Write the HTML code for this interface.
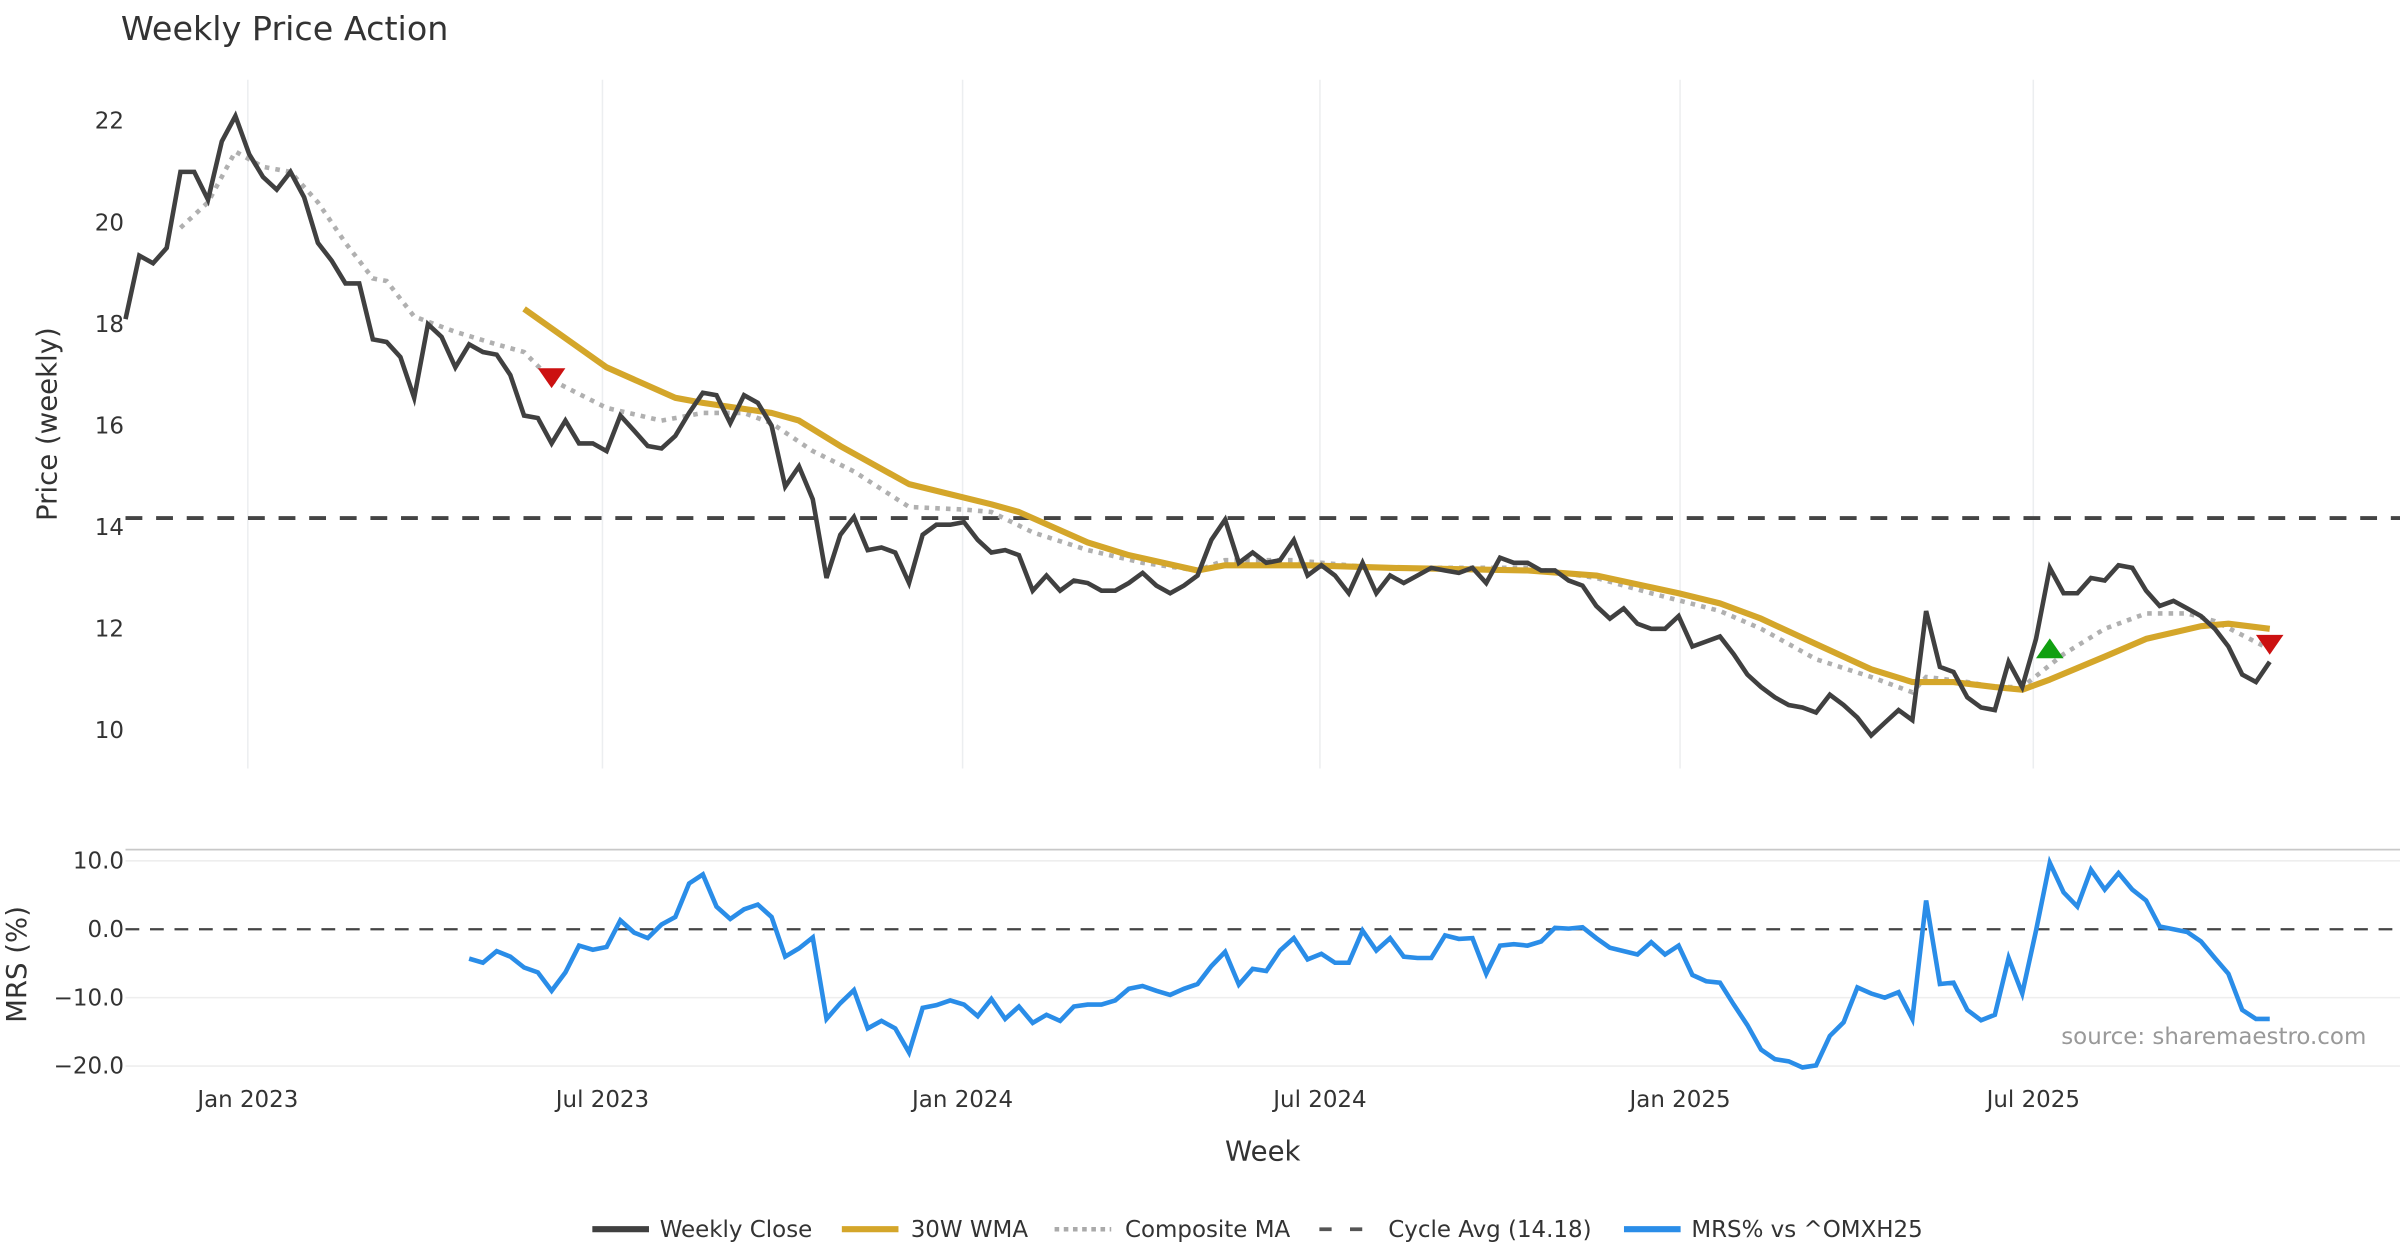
<!DOCTYPE html>
<html><head><meta charset="utf-8"><style>
html,body{margin:0;padding:0;background:#fff;}
svg{display:block;font-family:"DejaVu Sans","Liberation Sans",sans-serif;}
</style></head><body>
<svg id="chart" width="2400" height="1260" viewBox="0 0 1568 823" xmlns="http://www.w3.org/2000/svg">
<text x="79" y="26" font-size="21.8" fill="#333">Weekly Price Action</text>
<g id="grid"></g>
<g id="axes"></g>
<g id="series"></g>
<text transform="translate(37,277) rotate(-90)" text-anchor="middle" font-size="18" fill="#333">Price (weekly)</text>
<text transform="translate(17,630) rotate(-90)" text-anchor="middle" font-size="18" fill="#333">MRS (%)</text>
<text x="825" y="758" text-anchor="middle" font-size="18" fill="#333">Week</text>
<text x="1546" y="682" text-anchor="end" font-size="15" fill="#999">source: sharemaestro.com</text>
<g font-size="15" fill="#333">
<g><line x1="387" y1="803" x2="424" y2="803" stroke="#404040" stroke-width="4"/><text x="431" y="808">Weekly Close</text></g>
<g><line x1="550" y1="803" x2="587" y2="803" stroke="#d4a62a" stroke-width="4"/><text x="595" y="808">30W WMA</text></g>
<g><line x1="689" y1="803" x2="726" y2="803" stroke="#aaa" stroke-width="3" stroke-dasharray="3,3"/><text x="735" y="808">Composite MA</text></g>
<g><line x1="862" y1="803" x2="899" y2="803" stroke="#555" stroke-width="2.5" stroke-dasharray="8,12"/><text x="907" y="808">Cycle Avg (14.18)</text></g>
<g><line x1="1061" y1="803" x2="1098" y2="803" stroke="#2a8de8" stroke-width="4"/><text x="1105" y="808">MRS% vs ^OMXH25</text></g>
</g>
</svg>
<script>
const closeVals=[18.1,19.35,19.2,19.5,21.0,21.0,20.45,21.6,22.1,21.35,20.9,20.65,21.0,20.5,19.6,19.25,18.8,18.8,17.7,17.65,17.35,16.55,18.0,17.75,17.15,17.6,17.45,17.4,17.0,16.2,16.15,15.65,16.1,15.65,15.65,15.5,16.2,15.9,15.6,15.55,15.8,16.25,16.65,16.6,16.05,16.6,16.45,16.0,14.8,15.2,14.55,13.0,13.85,14.2,13.55,13.6,13.5,12.9,13.85,14.05,14.05,14.1,13.75,13.5,13.55,13.45,12.75,13.05,12.75,12.95,12.9,12.75,12.75,12.9,13.1,12.85,12.7,12.85,13.05,13.75,14.15,13.3,13.5,13.3,13.35,13.75,13.05,13.25,13.05,12.7,13.3,12.7,13.05,12.9,13.05,13.2,13.15,13.1,13.2,12.9,13.4,13.3,13.3,13.15,13.15,12.95,12.85,12.45,12.2,12.4,12.1,12.0,12.0,12.25,11.65,11.75,11.85,11.5,11.1,10.85,10.65,10.5,10.45,10.35,10.7,10.5,10.25,9.9,10.15,10.4,10.2,12.35,11.25,11.15,10.65,10.45,10.4,11.35,10.85,11.8,13.2,12.7,12.7,13.0,12.95,13.25,13.2,12.75,12.45,12.55,12.4,12.25,12.0,11.65,11.1,10.95,11.35];
const wmaWeeks=[29,35,40,42,47,49,52,57,63,65,70,73,78,80,86,92,102,107,113,116,119,123,127,130,133,136,138,140,144,147,151,153,156];
const wmaVals=[18.3,17.15,16.55,16.45,16.25,16.1,15.6,14.85,14.45,14.3,13.7,13.45,13.15,13.25,13.25,13.2,13.15,13.05,12.7,12.5,12.2,11.7,11.2,10.95,10.95,10.85,10.8,11.0,11.45,11.8,12.05,12.1,12.0];
const compWeeks=[4,6,8,10,12,14,16,18,19,21,24,27,29,31,35,39,42,45,47,50,53,57,61,63,66,70,74,78,80,85,91,97,102,107,111,116,119,123,127,130,131,134,136,138,141,144,147,150,152,156];
const compVals=[19.9,20.4,21.4,21.1,21.0,20.4,19.6,18.9,18.85,18.15,17.85,17.6,17.45,16.9,16.35,16.1,16.25,16.25,16.05,15.5,15.1,14.4,14.35,14.3,13.9,13.55,13.3,13.15,13.35,13.35,13.2,13.2,13.2,13.0,12.7,12.35,12.0,11.4,11.05,10.75,11.05,10.95,10.85,10.85,11.5,12.0,12.3,12.3,12.15,11.6];
const mrsStart=25;
const mrsVals=[-4.3,-4.9,-3.2,-4,-5.6,-6.3,-9,-6.3,-2.4,-3,-2.6,1.3,-0.5,-1.3,0.7,1.8,6.7,8,3.3,1.5,2.9,3.6,1.8,-4,-2.8,-1.2,-13.1,-10.8,-8.9,-14.5,-13.4,-14.5,-18,-11.5,-11.1,-10.4,-11,-12.7,-10.2,-13.1,-11.3,-13.7,-12.5,-13.4,-11.3,-11,-11,-10.4,-8.7,-8.3,-9,-9.6,-8.7,-8,-5.4,-3.3,-8.1,-5.8,-6.1,-3.1,-1.3,-4.4,-3.6,-4.9,-4.9,-0.2,-3.1,-1.3,-4,-4.2,-4.2,-0.9,-1.4,-1.3,-6.5,-2.4,-2.2,-2.4,-1.8,0.2,0.1,0.3,-1.3,-2.7,-3.2,-3.7,-1.9,-3.7,-2.4,-6.7,-7.6,-7.8,-11,-14,-17.6,-19,-19.3,-20.2,-19.9,-15.6,-13.6,-8.5,-9.4,-10,-9.2,-13.1,4.2,-8,-7.8,-11.8,-13.3,-12.5,-4.2,-9.4,-0.2,9.7,5.4,3.3,8.7,5.8,8.2,5.8,4.2,0.4,0,-0.4,-1.8,-4.2,-6.5,-11.8,-13.1,-13.1];
const cycleAvg=14.18;
const sellSignals=[[31,16.95],[156,11.7]];
const buySignals=[[140,11.6]];
const xTickWeeks=[8.9,34.7,60.9,86.9,113.1,138.8];
const xTickLabels=["Jan 2023","Jul 2023","Jan 2024","Jul 2024","Jan 2025","Jul 2025"];
const priceTicks=[10,12,14,16,18,20,22];
const mrsTicks=[10,0,-10,-20];
const mrsTickLabels=["10.0","0.0","\u221210.0","\u221220.0"];

const NS="http://www.w3.org/2000/svg";
const X=w=>82+w*8.98;
const YP=v=>79+(22-v)*33.17;
const YM=v=>607-v*4.47;
function mk(tag,attrs,parent){const e=document.createElementNS(NS,tag);for(const k in attrs)e.setAttribute(k,attrs[k]);parent.appendChild(e);return e;}
const grid=document.getElementById('grid'),axes=document.getElementById('axes'),ser=document.getElementById('series');

xTickWeeks.forEach((w,i)=>{
  const g1=mk('line',{x1:X(w),x2:X(w),y1:52,y2:502,stroke:'#eceef0','stroke-width':1},grid);
  
  
  const t=mk('text',{x:X(w),y:723,'text-anchor':'middle','font-size':15,fill:'#333'},axes);
  t.textContent=xTickLabels[i];
  
  
});
priceTicks.forEach(v=>{
  const t=mk('text',{x:81,y:YP(v)+5,'text-anchor':'end','font-size':15,fill:'#333'},axes);
  t.textContent=v;
  
  
});
mrsTicks.forEach((v,i)=>{
  if(v!==0){const gl=mk('line',{x1:82,x2:1568,y1:YM(v),y2:YM(v),stroke:'#eeeeee','stroke-width':1},grid);
  
  }
  const t=mk('text',{x:81,y:YM(v)+5,'text-anchor':'end','font-size':15,fill:'#333'},axes);
  t.textContent=mrsTickLabels[i];
  
  
});
const border=mk('line',{x1:82,x2:1568,y1:555,y2:555,stroke:'#c8c8c8','stroke-width':1.2},axes);


const zl=mk('line',{x1:82,x2:1568,y1:YM(0),y2:YM(0),stroke:'#444','stroke-width':1.5,'stroke-dasharray':'9,7'},axes);



const cy=mk('line',{x1:82,x2:1568,y1:YP(cycleAvg),y2:YP(cycleAvg),stroke:'#444','stroke-width':2.5,'stroke-dasharray':'11,9'},ser);



function pts(ws,vs,fy){return vs.map((v,i)=>X(ws[i]).toFixed(1)+','+fy(v).toFixed(1)).join(' ');}
const comp=mk('polyline',{points:pts(compWeeks,compVals,YP),fill:'none',stroke:'#b0b0b0','stroke-width':3,'stroke-dasharray':'3,4'},ser);


const wma=mk('polyline',{points:pts(wmaWeeks,wmaVals,YP),fill:'none',stroke:'#d4a62a','stroke-width':4,'stroke-linejoin':'round'},ser);


const cl=mk('polyline',{points:pts(closeVals.map((_,i)=>i),closeVals,YP),fill:'none',stroke:'#404040','stroke-width':3,'stroke-linejoin':'miter'},ser);


const mrs=mk('polyline',{points:pts(mrsVals.map((_,i)=>i+mrsStart),mrsVals,YM),fill:'none',stroke:'#2a8de8','stroke-width':3},ser);



sellSignals.forEach(s=>{const x=X(s[0]),y=YP(s[1]);
  const p=mk('polygon',{points:`${x-9},${y-6} ${x+9},${y-6} ${x},${y+7}`,fill:'#cc1111'},ser);
  
  });
buySignals.forEach(s=>{const x=X(s[0]),y=YP(s[1]);
  const p=mk('polygon',{points:`${x-9},${y+6} ${x+9},${y+6} ${x},${y-7}`,fill:'#11a011'},ser);
  
  });
</script>
</body></html>
